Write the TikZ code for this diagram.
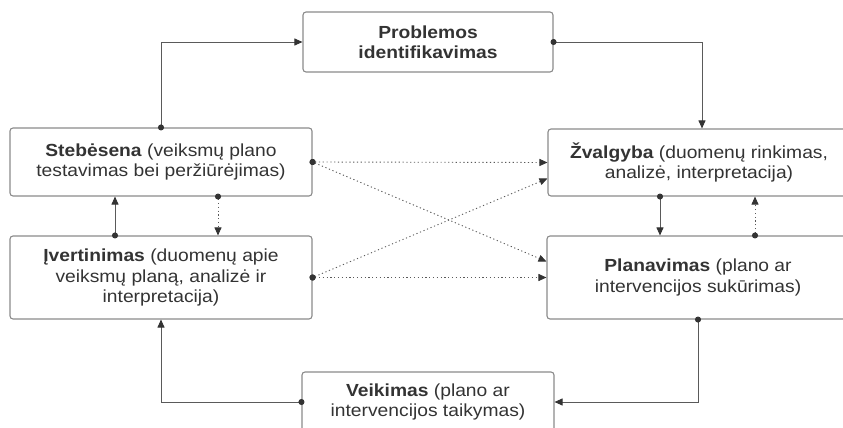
\documentclass[tikz,border=0pt]{standalone}
\usepackage{fontspec}
\setmainfont{Liberation Sans}[FakeStretch=1.1]
\usetikzlibrary{arrows.meta}
\definecolor{boxline}{HTML}{8A8A8A}
\definecolor{linkline}{HTML}{5A5A5A}
\definecolor{inktext}{HTML}{333333}
\begin{document}
\begin{tikzpicture}
  [x=1pt,y=-1pt,
   every node/.style={draw=boxline,line width=1.1pt,rounded corners=3pt,text=inktext,
     align=center,inner sep=0pt,font=\fontsize{17.5}{20.5}\selectfont},
   link/.style={draw=linkline,line width=0.9pt,shorten <=-3pt,
     {Circle[length=6pt,color=inktext]}-{Triangle[length=8pt,width=7pt,color=inktext]}},
   dots/.style={link,dash pattern=on 1.2pt off 2.6pt}]
  \useasboundingbox (0,0) rectangle (843,428);
  \node[minimum width=250pt,minimum height=60pt] (prob) at (428,42) {\textbf{Problemos}\\\textbf{identifikavimas}};
  \node[minimum width=302pt,minimum height=68pt] (steb) at (161,162) {\textbf{Stebėsena} (veiksmų plano\\testavimas bei peržiūrėjimas)};
  \node[minimum width=302pt,minimum height=67pt] (zval) at (699,162.5) {\textbf{Žvalgyba} (duomenų rinkimas,\\analizė, interpretacija)};
  \node[minimum width=302pt,minimum height=83pt] (iver) at (161,277.5) {\textbf{Įvertinimas} (duomenų apie\\veiksmų planą, analizė ir\\interpretacija)};
  \node[minimum width=302pt,minimum height=83pt] (plan) at (698,277.5) {\textbf{Planavimas} (plano ar\\intervencijos sukūrimas)};
  \node[minimum width=252pt,minimum height=60pt] (veik) at (428,402) {\textbf{Veikimas} (plano ar\\intervencijos taikymas)};
  % outer cycle
  \draw[link] (steb.north) |- (prob.west);
  \draw[link] (prob.east) -| (zval.north -| 702,0);
  \draw[link] (plan.south) |- (veik.east);
  \draw[link] (veik.west) -| (iver.south);
  % between the columns
  \foreach \from/\to in {steb.east/zval.west,iver.east/plan.west}
    \draw[dots] (\from) -- (\to);
  \draw[dots] (steb.east) -- ([yshift=16pt]plan.west);
  \draw[dots] (iver.east) -- ([yshift=-16pt]zval.west);
  % up and down
  \draw[link] (zval.south -| 660,0) -- (plan.north -| 660,0);
  \draw[dots] (plan.north -| 755,0) -- (zval.south -| 755,0);
  \draw[dots] (steb.south -| 218,0) -- (iver.north -| 218,0);
  \draw[link] (iver.north -| 115,0) -- (steb.south -| 115,0);
\end{tikzpicture}
\end{document}
